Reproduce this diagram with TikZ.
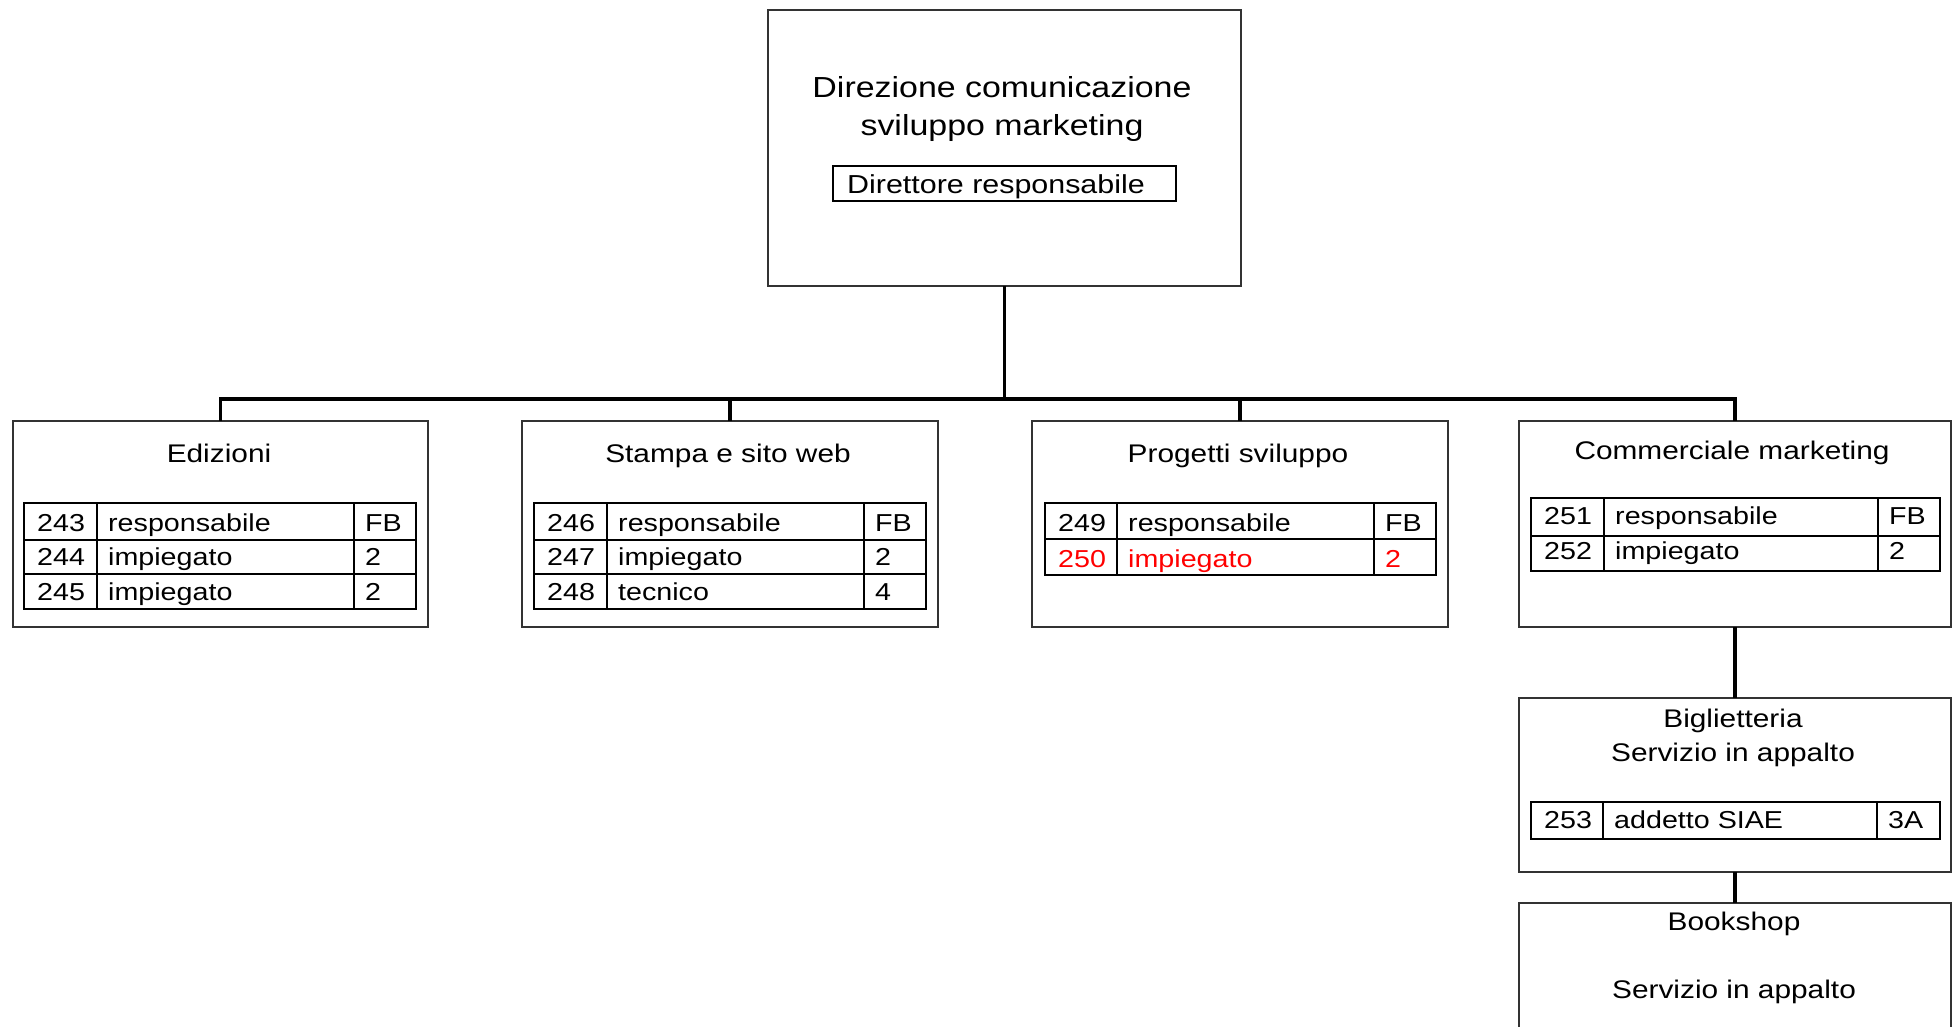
\documentclass[tikz,border=0pt]{standalone}
\usepackage{fontspec}
\setmainfont[FakeStretch=1.17]{Liberation Sans}

% column layout of the staff tables: left edge, two dividers, right edge, baseline offset
\newcommand{\setcols}[5]{\def\tl{#1}\def\tc{#2}\def\td{#3}\def\tr{#4}\def\tb{#5}}
% one table row: [colour] name, top, bottom, number, role, grade
\newcommand{\staffrow}[7][black]{%
  \draw[grid] (\tl,#3) rectangle (\tr,#4) (\tc,#3) -- (\tc,#4) (\td,#3) -- (\td,#4);
  \node[txt, text=#1] (#2-num) at (\tl+13,#4-\tb) {#5};
  \node[txt, text=#1] (#2-role) at (\tc+11,#4-\tb) {#6};
  \node[txt, text=#1] (#2-grade) at (\td+11,#4-\tb) {#7};
}

\begin{document}
\begin{tikzpicture}[x=1pt, y=-1pt,
  unit/.style={draw=black!80, line width=1.4pt, anchor=north west, inner sep=0pt, outer sep=0pt},
  conn/.style={line width=3.5pt},
  grid/.style={line width=2pt},
  txt/.style={anchor=base west, inner sep=0pt, font=\fontsize{24.5}{29}\selectfont},
  title/.style={anchor=base, inner sep=0pt, font=\fontsize{25.5}{30}\selectfont}]

\useasboundingbox (0,0) rectangle (1952,1026);

% head office
\node[unit, minimum width=473pt, minimum height=276pt] (dir) at (768,10) {};
\node[title, font=\fontsize{29}{35}\selectfont] (dir-t1) at (1002,97) {Direzione comunicazione};
\node[title, font=\fontsize{29}{35}\selectfont] (dir-t2) at (1002,135) {sviluppo marketing};
\node[unit, draw=black, line width=1.8pt, minimum width=343pt, minimum height=35pt] (dirresp) at (833,166) {};
\node[txt, font=\fontsize{26}{31}\selectfont] (dirresp-t) at (847,193) {Direttore responsabile};

% offices
\node[unit, minimum width=415pt, minimum height=206pt] (ed) at (13,421) {};
\node[unit, minimum width=416pt, minimum height=206pt] (st) at (522,421) {};
\node[unit, minimum width=416pt, minimum height=206pt] (pr) at (1032,421) {};
\node[unit, minimum width=432pt, minimum height=206pt] (co) at (1519,421) {};
\node[unit, minimum width=432pt, minimum height=174pt] (bi) at (1519,698) {};
\node[unit, minimum width=432pt, minimum height=140pt] (bo) at (1519,903) {};

% connectors
\coordinate (bus) at (1005,399);
\draw[conn] (dir.south) -- (dir.south |- bus);
\draw[conn] (ed.north) -- (ed.north |- bus) -- (co.north |- bus) -- (co.north);
\draw[conn] (st.north) -- (st.north |- bus);
\draw[conn] (pr.north) -- (pr.north |- bus);
\draw[conn] (co.south) -- (bi.north);
\draw[conn] (bi.south) -- (bo.north);

% Edizioni
\node[title] (ed-t) at (219,462) {Edizioni};
\setcols{24}{97}{354}{416}{9}
\staffrow{r243}{503}{540}{243}{responsabile}{FB}
\staffrow{r244}{540}{574}{244}{impiegato}{2}
\staffrow{r245}{574}{609}{245}{impiegato}{2}

% Stampa e sito web
\node[title] (st-t) at (728,462) {Stampa e sito web};
\setcols{534}{607}{864}{926}{9}
\staffrow{r246}{503}{540}{246}{responsabile}{FB}
\staffrow{r247}{540}{574}{247}{impiegato}{2}
\staffrow{r248}{574}{609}{248}{tecnico}{4}

% Progetti sviluppo
\node[title] (pr-t) at (1238,462) {Progetti sviluppo};
\setcols{1045}{1117}{1374}{1436}{8}
\staffrow{r249}{503}{539}{249}{responsabile}{FB}
\staffrow[red]{r250}{539}{575}{250}{impiegato}{2}

% Commerciale marketing
\node[title] (co-t) at (1732,459) {Commerciale marketing};
\setcols{1531}{1604}{1878}{1940}{12}
\staffrow{r251}{498}{536}{251}{responsabile}{FB}
\staffrow{r252}{536}{571}{252}{impiegato}{2}

% Biglietteria
\node[title] (bi-t1) at (1733,727) {Biglietteria};
\node[title] (bi-t2) at (1733,761) {Servizio in appalto};
\setcols{1531}{1603}{1877}{1940}{11}
\staffrow{r253}{802}{839}{253}{addetto SIAE}{3A}

% Bookshop
\node[title] (bo-t1) at (1734,930) {Bookshop};
\node[title] (bo-t2) at (1734,998) {Servizio in appalto};

\end{tikzpicture}
\end{document}
